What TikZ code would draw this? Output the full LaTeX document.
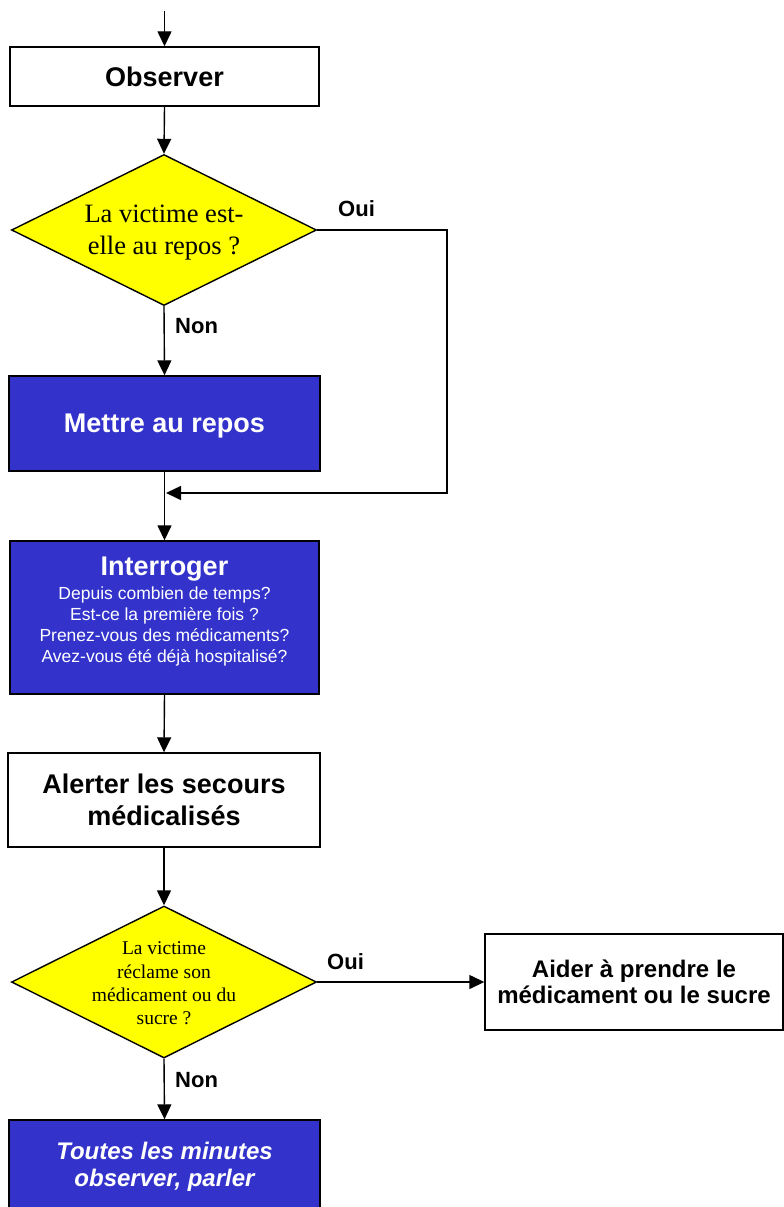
\documentclass[tikz,border=0pt]{standalone}
\usepackage{fontspec}
\setmainfont{Liberation Sans}
\newfontfamily\serifface{Liberation Serif}
\usetikzlibrary{shapes.geometric,arrows.meta}
\definecolor{boxblue}{RGB}{51,51,204}
\definecolor{diayellow}{RGB}{255,255,0}
\begin{document}
\begin{tikzpicture}[x=1pt,y=-1pt,
  every node/.style={inner sep=0pt},
  conn/.style={line width=1.4pt},
  arr/.style={line width=1.4pt,-{Triangle[length=15pt,width=14pt]}},
  wbox/.style={draw,line width=1.4pt,fill=white,align=center,font=\fontsize{27}{32}\selectfont\bfseries},
  bbox/.style={wbox,fill=boxblue,text=white},
  dia/.style={draw,line width=1.4pt,fill=diayellow,shape=diamond,minimum width=305pt,minimum height=151pt},
  lbl/.style={font=\fontsize{22}{26}\selectfont\bfseries,anchor=base west},
]
\path[use as bounding box, clip] (0,0) rectangle (784,1207);

% nodes
\node[wbox,minimum width=309pt,minimum height=59pt] (obs) at (164.5,76.5) {Observer};
\node[dia] (d1) at (164,230) {};
\node[align=center,font=\serifface\fontsize{26.5}{32}\selectfont] (d1txt) at (164,233) {La victime est-\\elle au repos ?};
\node[bbox,minimum width=311pt,minimum height=95pt,text depth=0pt] (mettre) at (164.5,423.5) {Mettre au repos};
\node[bbox,minimum width=309pt,minimum height=153pt] (inter) at (164.5,617.5) {};
\node[align=center,text=white,font=\fontsize{17.5}{21}\selectfont] (intertxt) at (164.5,611.5)
  {{\fontsize{27}{24}\selectfont\bfseries Interroger}\\[3pt]
   Depuis combien de temps?\\
   Est-ce la première fois ?\\
   Prenez-vous des médicaments?\\
   Avez-vous été déjà hospitalisé?};
\node[wbox,minimum width=312pt,minimum height=94pt] (alert) at (164,800) {Alerter les secours\\médicalisés};
\node[dia,minimum height=152pt] (d2) at (164,982) {};
\node[align=center,font=\serifface\fontsize{19.5}{23.3}\selectfont] (d2txt) at (164,983.5)
  {La victime\\réclame son\\médicament ou du\\sucre ?};
\node[wbox,minimum width=298pt,minimum height=96pt,font=\fontsize{24}{26}\selectfont\bfseries] (aider) at (634,982)
  {Aider à prendre le\\médicament ou le sucre};
\node[bbox,minimum width=311pt,minimum height=94pt,font=\fontsize{24}{27}\selectfont\bfseries\itshape] (toutes) at (164.5,1167)
  {Toutes les minutes\\observer, parler};

% labels
\node[lbl] (oui1) at (338,216) {Oui};
\node[lbl] (non1) at (175,333) {Non};
\node[lbl] (oui2) at (327,969) {Oui};
\node[lbl] (non2) at (175,1087) {Non};

% coordinates
\coordinate (start) at (164.5,11);
\coordinate (r1) at (447,230);
\coordinate (r2) at (447,493);
\coordinate (j) at (166,493);

% connectors
\draw[arr] (start) -- (obs.north);
\draw[arr] (obs.south) -- (d1.north);
\draw[arr] (d1.south) -- (mettre.north);
\draw[arr] (d1.east) -- (r1) -- (r2) -- (j);
\draw[arr] (mettre.south) -- (inter.north);
\draw[arr] (inter.south) -- (alert.north);
\draw[arr] (alert.south) -- (d2.north);
\draw[arr] (d2.east) -- (aider.west);
\draw[arr] (d2.south) -- (toutes.north);
\end{tikzpicture}
\end{document}
